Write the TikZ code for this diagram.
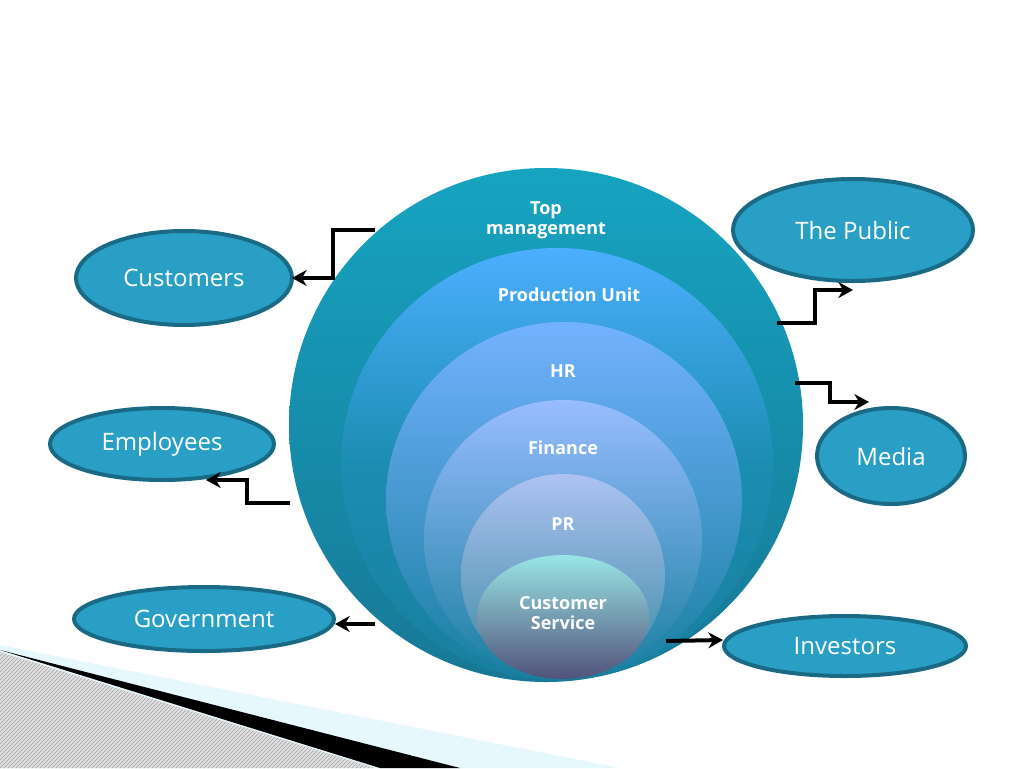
\documentclass[tikz,border=0pt]{standalone}
\usepackage{fontspec}
\setmainfont{Open Sans}
\usetikzlibrary{arrows.meta,patterns}
\definecolor{outerc}{HTML}{1B8DB1}
\definecolor{edgec}{HTML}{1A6A86}
\definecolor{ellc}{HTML}{2A9FC6}
\begin{document}
\begin{tikzpicture}[x=0.75pt,y=-0.75pt,
  ell/.style={draw=edgec,line width=3pt,fill=ellc},
  etxt/.style={text=white,font=\fontsize{18}{20}\selectfont},
  lab/.style={text=white,font=\bfseries\fontsize{13.5}{15}\selectfont,align=center},
  arr/.style={line width=3pt,-{Stealth[length=11pt,width=12pt]}}]
\useasboundingbox (0,0) rectangle (1024,768);
\fill[white] (0,0) rectangle (1024,768);
% decoration
\fill[cyan!10] (0,645) -- (620,768) -- (0,768) -- cycle;
\fill[black] (0,650) -- (460,768) -- (380,768) -- cycle;
\fill[gray!25] (0,652) -- (375,768) -- (0,768) -- cycle;
\fill[pattern=north east lines,pattern color=gray!70] (0,652) -- (375,768) -- (0,768) -- cycle;
% circles
\shade[top color=outerc!80!cyan,bottom color=outerc!85!black] (546,425) circle[radius=257];
\node[lab] (top) at (546,220) {Top\\management};
\shade[top color=cyan!55!blue!70!white,bottom color=outerc!90!black,middle color=outerc] (557,464) circle[radius=216];
\node[lab] (prod) at (569,295) {Production Unit};
\shade[top color=cyan!45!blue!55!white,bottom color=outerc!90!black] (564,500) circle[radius=178];
\node[lab] (hr) at (563,371) {HR};
\shade[top color=cyan!35!blue!40!white,bottom color=outerc!90!black] (563,539) circle[radius=139];
\node[lab] (fin) at (563,448) {Finance};
\shade[top color=cyan!30!blue!30!white!90!gray,bottom color=outerc!70!gray] (563,576) circle[radius=102];
\node[lab] (pr) at (563,524) {PR};
\shade[top color=gray!40!cyan!50!white,bottom color=gray!60!blue!50!black!80] (563,617) ellipse[x radius=86,y radius=62];
\node[lab] (cs) at (563,613) {Customer\\Service};
% ellipses
\draw[ell] (184,278) ellipse[x radius=108,y radius=47];
\node[etxt] (cust) at (184,278) {Customers};
\draw[ell] (162,444) ellipse[x radius=112,y radius=36];
\node[etxt] (emp) at (162,444) {Employees};
\draw[ell] (204,619) ellipse[x radius=130,y radius=32];
\node[etxt] (gov) at (204,619) {Government};
\draw[ell] (853,230) ellipse[x radius=120,y radius=51];
\node[etxt] (pub) at (853,230) {The Public};
\draw[ell] (891,456) ellipse[x radius=74,y radius=48];
\node[etxt] (med) at (891,456) {Media};
\draw[ell] (845,646) ellipse[x radius=121,y radius=30];
\node[etxt] (inv) at (845,646) {Investors};
% arrows
\coordinate (a1) at (375,230); \coordinate (b1) at (292,278);
\draw[arr] (a1) -- (333,230) -- (333,278) -- (b1);
\coordinate (a2) at (290,503); \coordinate (b2) at (206,480);
\draw[arr] (a2) -- (247,503) -- (247,480) -- (b2);
\coordinate (a3) at (375,624); \coordinate (b3) at (335,624);
\draw[arr] (a3) -- (b3);
\coordinate (a4) at (777,323); \coordinate (b4) at (853,290);
\draw[arr] (a4) -- (815,323) -- (815,290) -- (b4);
\coordinate (a5) at (795,383); \coordinate (b5) at (869,402);
\draw[arr] (a5) -- (830,383) -- (830,402) -- (b5);
\coordinate (a6) at (666,641); \coordinate (b6) at (723,640);
\draw[arr] (a6) -- (b6);
\end{tikzpicture}
\end{document}
